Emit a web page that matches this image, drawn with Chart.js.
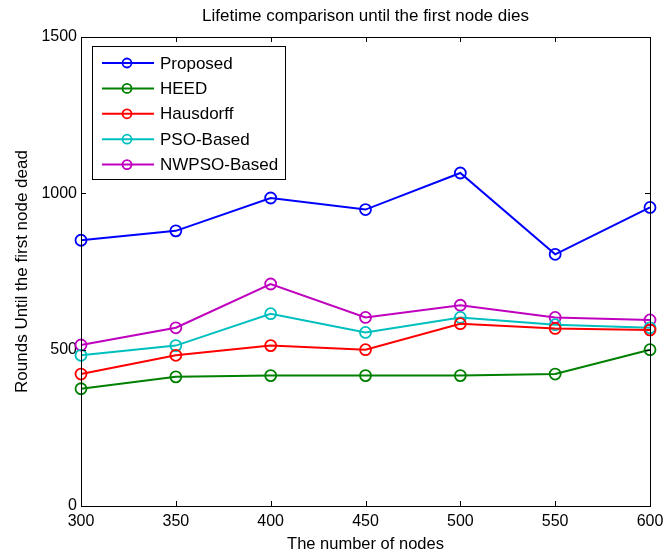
<!DOCTYPE html>
<html>
<head>
<meta charset="utf-8">
<script src="https://cdn.jsdelivr.net/npm/chart.js@4.4.0/dist/chart.umd.min.js"></script>
<style>
  body { margin: 0; background: #fff; }
</style>
</head>
<body>
<canvas id="myChart" width="664" height="555"></canvas>
<script>
const nodes = [300, 350, 400, 450, 500, 550, 600];
const proposed = [850, 880, 985, 948, 1065, 805, 955];
const heed = [375, 413, 417, 417, 417, 422, 500];
const hausdorff = [422, 482, 513, 500, 583, 568, 563];
const psoBased = [482, 513, 615, 555, 603, 580, 570];
const nwpsoBased = [515, 570, 710, 603, 642, 603, 595];

const seriesNames = ["Proposed", "HEED", "Hausdorff", "PSO-Based", "NWPSO-Based"];
const seriesColors = ["#0000ff", "#008000", "#ff0000", "#00bfbf", "#bf00bf"];
const seriesValues = [proposed, heed, hausdorff, psoBased, nwpsoBased];

const FONT = "'Liberation Sans', Arial, sans-serif";

const datasets = seriesValues.map((vals, i) => ({
  label: seriesNames[i],
  data: vals.map((v, j) => ({ x: nodes[j], y: v })),
  borderColor: seriesColors[i],
  pointBorderColor: seriesColors[i],
  pointBackgroundColor: "rgba(0,0,0,0)",
  borderWidth: 2,
  pointRadius: 5.5,
  pointBorderWidth: 1.8,
  tension: 0,
  clip: false
}));

// box, inward ticks, titles and legend in matlab style
const decor = {
  id: "decor",
  afterDraw(chart) {
    const ctx = chart.ctx;
    const a = chart.chartArea;
    const xs = chart.scales.x, ys = chart.scales.y;
    ctx.save();
    ctx.strokeStyle = "#000";
    ctx.lineWidth = 1;
    ctx.strokeRect(a.left + 0.5, a.top + 0.5, a.right - a.left, a.bottom - a.top);
    const tl = 5;
    ctx.beginPath();
    xs.ticks.forEach(t => {
      const px = Math.round(xs.getPixelForValue(t.value)) + 0.5;
      ctx.moveTo(px, a.bottom); ctx.lineTo(px, a.bottom - tl);
      ctx.moveTo(px, a.top); ctx.lineTo(px, a.top + tl);
    });
    ys.ticks.forEach(t => {
      const py = Math.round(ys.getPixelForValue(t.value)) + 0.5;
      ctx.moveTo(a.left, py); ctx.lineTo(a.left + tl, py);
      ctx.moveTo(a.right, py); ctx.lineTo(a.right - tl, py);
    });
    ctx.stroke();

    ctx.fillStyle = "#000";
    ctx.textAlign = "center";
    ctx.textBaseline = "middle";
    ctx.font = "17px " + FONT;
    ctx.fillText("Lifetime comparison until the first node dies", (a.left + a.right) / 2, 16);
    ctx.font = "16.5px " + FONT;
    ctx.fillText("The number of nodes", (a.left + a.right) / 2, 544);
    ctx.save();
    ctx.translate(22, (a.top + a.bottom) / 2);
    ctx.rotate(-Math.PI / 2);
    ctx.font = "17px " + FONT;
    ctx.fillText("Rounds Until the first node dead", 0, 0);
    ctx.restore();

    // legend
    const lx = 92, ly = 46, lw = 193, lh = 133;
    ctx.fillStyle = "#fff";
    ctx.fillRect(lx, ly, lw, lh);
    ctx.strokeRect(lx + 0.5, ly + 0.5, lw, lh);
    ctx.textAlign = "left";
    ctx.font = "17px " + FONT;
    chart.data.datasets.forEach((ds, i) => {
      const y = 63 + i * 25.4;
      ctx.strokeStyle = ds.borderColor;
      ctx.lineWidth = 2;
      ctx.beginPath();
      ctx.moveTo(102, y); ctx.lineTo(154, y);
      ctx.stroke();
      ctx.lineWidth = 1.8;
      ctx.beginPath();
      ctx.arc(127, y, 4.5, 0, Math.PI * 2);
      ctx.stroke();
      ctx.fillStyle = "#000";
      ctx.fillText(ds.label, 160, y + 1);
    });
    ctx.restore();
  }
};

new Chart(document.getElementById("myChart"), {
  type: "line",
  data: { datasets: datasets },
  options: {
    responsive: false,
    animation: false,
    devicePixelRatio: 1,
    layout: { padding: { top: 37, right: 14, left: 0, bottom: 0 } },
    plugins: { legend: { display: false }, title: { display: false }, tooltip: { enabled: false } },
    scales: {
      x: {
        type: "linear",
        min: 300,
        max: 600,
        border: { display: false },
        grid: { display: false, drawTicks: false },
        ticks: { stepSize: 50, color: "#000", padding: 6, font: { size: 16, family: FONT }, maxRotation: 0,
                 callback: v => String(v) },
        afterFit(scale) { scale.height = 49; scale.paddingLeft = 0; scale.paddingRight = 0; }
      },
      y: {
        min: 0,
        max: 1500,
        border: { display: false },
        grid: { display: false, drawTicks: false },
        ticks: { stepSize: 500, color: "#000", padding: 4, font: { size: 16, family: FONT },
                 callback: v => String(v) },
        afterFit(scale) { scale.width = 81; scale.paddingTop = 0; scale.paddingBottom = 0; }
      }
    }
  },
  plugins: [decor]
});
</script>
</body>
</html>
